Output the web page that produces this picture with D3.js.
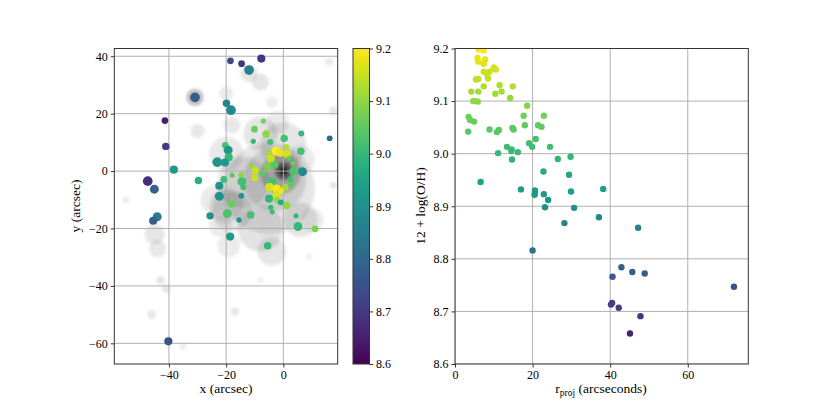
<!DOCTYPE html>
<html>
<head>
<meta charset="utf-8">
<script src="https://cdn.jsdelivr.net/npm/d3@7"></script>
<style>
  body { margin: 0; background: #fff; }
  text { font-family: "Liberation Serif", "DejaVu Serif", serif; fill: #000; }
</style>
</head>
<body>
<script>
// LEFT PANEL: REGIONS ON THE SKY (x, y in arcsec, s = marker size, oh = 12+log(O/H))
var mapX = [-18.5,-14.6,-7.7,-12.0,-30.9,-19.9,-18.3,-41.4,-41.1,-38.3,-47.4,-45.1,16.2,-7.0,-10.1,6.3,-6.0,-10.5,-4.6,0.3,
  -20.3,-19.3,1.1,6.1,-2.6,-1.1,1.3,-5.1,2.0,-4.4,3.4,-19.1,-23.1,-20.4,-5.4,-3.0,-11.2,6.7,3.5,-9.9,
  -7.4,-29.7,-20.8,-17.9,-14.7,-10.0,-22.4,-14.5,-14.0,2.5,-3.9,-4.8,-2.4,2.7,0.7,-1.0,-2.6,-22.4,-14.7,-5.0,
  -2.2,-0.9,1.2,-18.1,-4.4,-3.9,-19.6,-25.6,-11.4,-15.5,4.4,5.1,11.1,-18.6,-5.5,-44.1,-45.5,-40.2]
var mapY = [38.4,37.4,39.2,35.2,25.7,23.6,21.2,17.6,8.6,0.5,-3.5,-6.3,11.4,17.4,14.6,13.1,12.9,10.4,10.1,11.4,
  9.0,7.3,8.3,6.9,7.0,6.3,5.9,6.2,4.4,4.3,2.7,4.8,3.1,3.0,1.6,2.1,1.9,-0.2,-0.1,0.1,
  -0.9,-3.3,-2.9,-1.4,-1.4,-2.4,-5.1,-3.7,-5.6,-2.9,-3.7,-5.6,-6.1,-4.7,-5.7,-6.9,-8.4,-8.8,-8.6,-9.6,
  -10.1,-10.9,-12.0,-11.5,-12.6,-14.2,-14.8,-15.6,-15.3,-17.0,-15.6,-19.3,-20.1,-22.8,-26.0,-15.9,-17.3,-59.3]
var mapS = [9,9,13.4,18.8,18.8,11.1,18.8,9,11.1,13.4,18.8,16,7.1,5.4,9,7.1,11.1,5.4,7.1,11.1,
  9,16,7.1,11.1,16,11.1,11.1,7.1,5.4,13.4,5.4,13.4,18.8,13.4,13.4,11.1,5.4,16,13.4,11.1,
  9,11.1,9,5.4,7.1,9,13.4,16,7.1,7.1,16,16,13.4,7.1,9,9,11.1,16,7.1,13.4,
  7.1,7.1,11.1,11.1,5.4,5.4,16,11.1,11.1,5.4,5.4,16,9,13.4,11.1,16,13.4,13.4]
var mapOH = [8.73,8.69,8.69,8.86,8.77,8.87,8.88,8.65,8.70,8.92,8.68,8.78,8.80,9.08,9.06,9.00,9.10,9.00,9.02,9.02,
  9.03,8.92,9.13,9.02,9.20,9.18,9.16,9.12,9.05,9.15,9.06,9.00,8.90,8.92,9.08,9.04,9.10,8.88,9.03,9.15,
  9.05,8.98,9.01,9.05,9.10,9.15,8.91,9.02,9.02,9.02,9.02,9.16,9.19,9.05,9.12,9.18,9.16,8.90,8.92,9.00,
  9.10,8.97,9.10,9.06,9.00,9.02,9.03,8.90,9.02,8.90,9.00,9.00,9.08,8.93,9.00,8.85,8.77,8.75]

// BACKGROUND IMAGE, SKETCHED AS GRAY BLOBS (x, y, radius in arcsec, darkness)
var glowX = [0,0,-1,-3,-5,-14,-18,-20,-8,-4,6,10,0,-8,-20,-24,-19,-2,
  -45,-44,-12,-8,-30.9,-18,-30,-20,-4,16,17.5,17.5,-43,-41,-46,-17,-35,-55,-8,9,-22,6]
var glowY = [0,0,-1,-3,-6,-4,-14,-12,-20,-28,-17,-17,9,13,6,-10,-26,17,
  -22,-27,34,31,25.7,16,14,27,24,38,21,-5,-38,-41,-50,-49,-61,-10,-38,-30,-19,4]
var glowR = [1.2,3,7,11,16,9,7,6,8,5,6,4,8,6,6,5,4,4,
  3.5,3,3,3,3,3,2.5,2.5,2,1.5,1.5,1.2,1.5,1.5,1.5,1.5,1.2,1.2,1.2,1.2,4,5]
var glowD = [0.9,0.45,0.2,0.12,0.1,0.1,0.1,0.1,0.11,0.1,0.1,0.08,0.1,0.1,0.09,0.08,0.08,0.08,
  0.1,0.09,0.1,0.1,0.25,0.09,0.09,0.08,0.08,0.08,0.1,0.1,0.1,0.1,0.1,0.1,0.08,0.08,0.06,0.06,0.08,0.08]

// RIGHT PANEL: OXYGEN ABUNDANCE VS PROJECTED RADIUS
var radius = [6.1,7.4,5.8,7.8,6.0,7.4,10.0,10.5,7.4,8.9,8.3,5.4,6.0,8.5,7.4,11.5,14.9,4.2,6.0,10.4,
  12.0,14.2,4.7,5.3,5.9,18.6,3.5,3.9,4.9,17.7,22.9,18.0,21.4,22.3,3.4,8.9,11.3,10.8,14.8,15.1,
  20.8,19.1,19.9,24.5,13.4,11.1,14.6,14.5,16.2,14.7,26.5,29.8,22.8,29.4,6.6,17.0,20.6,20.6,20.5,22.9,
  24.0,29.9,38.2,23.2,30.7,28.2,37.1,47.2,20.0,42.9,45.7,48.9,40.6,71.9,40.2,40.5,42.2,47.8,45.1]
var abund = [9.198,9.196,9.182,9.179,9.175,9.171,9.164,9.160,9.156,9.156,9.151,9.141,9.142,9.143,9.128,9.130,9.128,9.118,9.118,9.114,
  9.118,9.106,9.100,9.100,9.099,9.091,9.070,9.064,9.061,9.072,9.072,9.054,9.054,9.051,9.042,9.046,9.045,9.041,9.049,9.046,
  9.028,9.020,9.013,9.013,9.013,9.001,9.008,9.005,9.003,8.989,8.990,8.994,8.966,8.960,8.946,8.932,8.930,8.925,8.922,8.923,
  8.912,8.928,8.933,8.898,8.897,8.868,8.879,8.859,8.816,8.784,8.775,8.772,8.766,8.747,8.713,8.716,8.707,8.691,8.658]

var mapTicksX = [-40,-20,0]
var mapTicksY = [-60,-40,-20,0,20,40]
var ohTicks = [8.6,8.7,8.8,8.9,9.0,9.1,9.2]
var radTicks = [0,20,40,60]

var W = 831, H = 410
var yTop = 48.5, yBot = 364

var svg = d3.select("body")
  .append("svg")
  .attr("width", W)
  .attr("height", H)

svg.append("rect").attr("width", W).attr("height", H).attr("fill", "#fff")

// COLOR SCALE (VIRIDIS)
var color = d3.scaleSequential(d3.interpolateViridis).domain([8.6, 9.2])

// ===== LEFT PANEL =====
var x1 = d3.scaleLinear().domain([-59.1, 19.0]).range([114.3, 337.7])
var y1 = d3.scaleLinear().domain([-67.2, 42.7]).range([yBot, yTop])
var size = d3.scaleSqrt().domain([0, 20]).range([0, 5.0])
var pxPerArcsec = x1(1) - x1(0)

var defs = svg.append("defs")
defs.append("clipPath").attr("id", "clipL")
  .append("rect")
  .attr("x", 114.3).attr("y", yTop)
  .attr("width", 337.7 - 114.3).attr("height", yBot - yTop)
defs.append("filter").attr("id", "blur")
  .attr("x", "-50%").attr("y", "-50%").attr("width", "200%").attr("height", "200%")
  .append("feGaussianBlur").attr("stdDeviation", 1.6)

var left = svg.append("g").attr("clip-path", "url(#clipL)")

// gray galaxy image
left.append("g")
  .attr("filter", "url(#blur)")
  .selectAll("circle")
  .data(glowX)
  .enter()
  .append("circle")
  .attr("cx", (d, i) => x1(glowX[i]))
  .attr("cy", (d, i) => y1(glowY[i]))
  .attr("r", (d, i) => glowR[i] * pxPerArcsec)
  .attr("fill", "#000")
  .attr("fill-opacity", (d, i) => glowD[i])

// grid
left.append("g").selectAll("line")
  .data(mapTicksX).enter().append("line")
  .attr("x1", d => x1(d)).attr("x2", d => x1(d))
  .attr("y1", yTop).attr("y2", yBot)
  .attr("stroke", "#b0b0b0").attr("stroke-width", 1)
left.append("g").selectAll("line")
  .data(mapTicksY).enter().append("line")
  .attr("y1", d => y1(d)).attr("y2", d => y1(d))
  .attr("x1", 114.3).attr("x2", 337.7)
  .attr("stroke", "#b0b0b0").attr("stroke-width", 1)

// points
left.append("g").selectAll("circle")
  .data(mapX).enter().append("circle")
  .attr("cx", (d, i) => x1(mapX[i]))
  .attr("cy", (d, i) => y1(mapY[i]))
  .attr("r", (d, i) => size(mapS[i]))
  .attr("fill", (d, i) => color(mapOH[i]))

// axes
var minus = d => d < 0 ? "\u2212" + Math.abs(d) : d
svg.append("g").attr("transform", "translate(0," + yBot + ")")
  .call(d3.axisBottom(x1).tickValues(mapTicksX).tickSize(3.5).tickPadding(3).tickFormat(minus))
svg.append("g").attr("transform", "translate(114.3,0)")
  .call(d3.axisLeft(y1).tickValues(mapTicksY).tickSize(3.5).tickPadding(3).tickFormat(minus))

svg.append("rect")
  .attr("x", 114.3).attr("y", yTop)
  .attr("width", 337.7 - 114.3).attr("height", yBot - yTop)
  .attr("fill", "none").attr("stroke", "#333").attr("stroke-width", 1)

svg.append("text").attr("x", 226).attr("y", 393).attr("text-anchor", "middle")
  .style("font-size", "13.5px").text("x (arcsec)")
svg.append("text").attr("transform", "translate(80,206) rotate(-90)").attr("text-anchor", "middle")
  .style("font-size", "13.5px").text("y (arcsec)")

// ===== COLORBAR =====
var grad = defs.append("linearGradient").attr("id", "cbar")
  .attr("x1", 0).attr("y1", 1).attr("x2", 0).attr("y2", 0)
grad.selectAll("stop")
  .data(d3.range(0, 1.0001, 0.05))
  .enter().append("stop")
  .attr("offset", d => d)
  .attr("stop-color", d => d3.interpolateViridis(d))

var cbY = d3.scaleLinear().domain([8.6, 9.2]).range([yBot, yTop])
svg.append("rect")
  .attr("x", 353).attr("y", yTop)
  .attr("width", 16.5).attr("height", yBot - yTop)
  .attr("fill", "url(#cbar)").attr("stroke", "#333").attr("stroke-width", 1)
svg.append("g").attr("transform", "translate(369.5,0)")
  .call(d3.axisRight(cbY).tickValues(ohTicks).tickSize(3.5).tickPadding(3).tickFormat(d3.format(".1f")))

// ===== RIGHT PANEL =====
var x2 = d3.scaleLinear().domain([0, 75.6]).range([455, 748.3])
var y2 = d3.scaleLinear().domain([8.6, 9.2]).range([yBot, yTop])

defs.append("clipPath").attr("id", "clipR")
  .append("rect")
  .attr("x", 455).attr("y", yTop)
  .attr("width", 748.3 - 455).attr("height", yBot - yTop)

var right = svg.append("g").attr("clip-path", "url(#clipR)")

right.append("g").selectAll("line")
  .data(radTicks).enter().append("line")
  .attr("x1", d => x2(d)).attr("x2", d => x2(d))
  .attr("y1", yTop).attr("y2", yBot)
  .attr("stroke", "#b0b0b0").attr("stroke-width", 1)
right.append("g").selectAll("line")
  .data(ohTicks).enter().append("line")
  .attr("y1", d => y2(d)).attr("y2", d => y2(d))
  .attr("x1", 455).attr("x2", 748.3)
  .attr("stroke", "#b0b0b0").attr("stroke-width", 1)

right.append("g").selectAll("circle")
  .data(radius).enter().append("circle")
  .attr("cx", (d, i) => x2(radius[i]))
  .attr("cy", (d, i) => y2(abund[i]))
  .attr("r", 3.2)
  .attr("fill", (d, i) => color(abund[i]))

svg.append("g").attr("transform", "translate(0," + yBot + ")")
  .call(d3.axisBottom(x2).tickValues(radTicks).tickSize(3.5).tickPadding(3))
svg.append("g").attr("transform", "translate(455,0)")
  .call(d3.axisLeft(y2).tickValues(ohTicks).tickSize(3.5).tickPadding(3).tickFormat(d3.format(".1f")))

svg.append("rect")
  .attr("x", 455).attr("y", yTop)
  .attr("width", 748.3 - 455).attr("height", yBot - yTop)
  .attr("fill", "none").attr("stroke", "#333").attr("stroke-width", 1)

var xl = svg.append("text").attr("x", 601).attr("y", 393).attr("text-anchor", "middle")
  .style("font-size", "13.5px")
xl.append("tspan").text("r")
xl.append("tspan").attr("dy", 3).style("font-size", "9.5px").text("proj")
xl.append("tspan").attr("dy", -3).text(" (arcseconds)")

svg.append("text").attr("transform", "translate(425,206) rotate(-90)").attr("text-anchor", "middle")
  .style("font-size", "13.5px").text("12 + log(O/H)")

// AXIS STYLE (matplotlib look)
svg.selectAll(".domain").remove()
svg.selectAll(".tick line").attr("stroke", "#333")
svg.selectAll(".tick text").style("font-size", "12px").attr("fill", "#000")
</script>
</body>
</html>
